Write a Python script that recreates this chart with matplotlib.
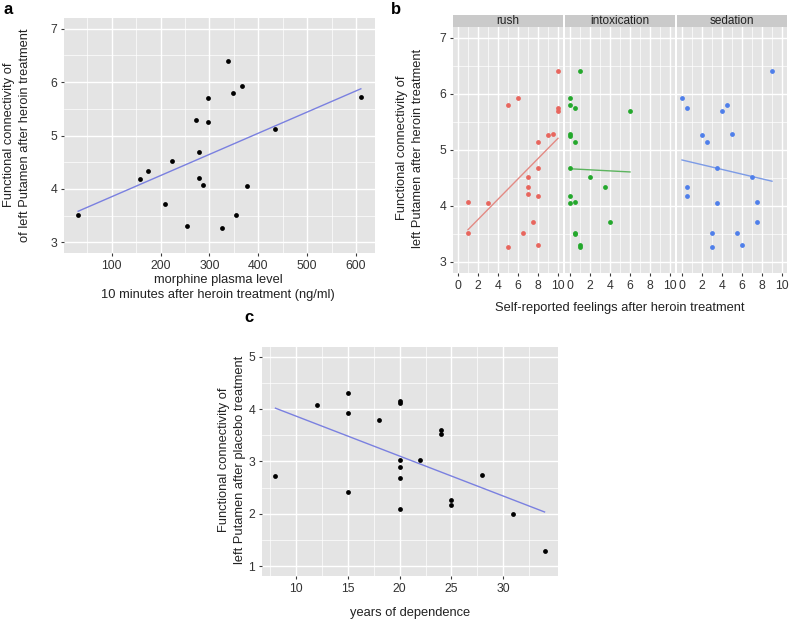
import numpy as np
import matplotlib
matplotlib.use("Agg")
import matplotlib.pyplot as plt

plt.rcParams['font.family'] = ['Liberation Sans', 'DejaVu Sans']

# ---- Panel a data ----
morphine = [31, 158, 175, 209, 224, 254, 273, 279, 279, 286, 296, 296, 326, 338, 348, 354, 367, 376, 435, 610]
fc_heroin = [3.52, 4.18, 4.34, 3.72, 4.52, 3.30, 5.29, 4.20, 4.69, 4.07, 5.70, 5.26, 3.27, 6.40, 5.80, 3.51, 5.92, 4.05, 5.13, 5.73]

# ---- Panel b data ----
facet_names = ["rush", "intoxication", "sedation"]
rush_x = [1, 1, 3, 5, 5, 6, 6.5, 7, 7, 7, 7.5, 8, 8, 8, 8, 9, 9.5, 10, 10, 10]
rush_y = [3.52, 4.07, 4.05, 3.27, 5.80, 5.92, 3.51, 4.52, 4.33, 4.21, 3.71, 5.13, 4.68, 4.17, 3.30, 5.26, 5.29, 6.40, 5.74, 5.70]
intox_x = [1, 0, 0, 0.5, 6, 0, 0, 0.5, 0, 2, 3.5, 0, 0, 0.5, 4, 0.5, 0.5, 1, 1]
intox_y = [6.40, 5.92, 5.80, 5.74, 5.70, 5.29, 5.25, 5.13, 4.68, 4.52, 4.33, 4.17, 4.05, 4.07, 3.71, 3.52, 3.50, 3.30, 3.27]
sed_x = [0, 0.5, 0.5, 0.5, 2, 2.5, 3, 3, 3.5, 3.5, 4, 4.5, 5, 5.5, 6, 7, 7.5, 7.5, 9]
sed_y = [5.92, 5.74, 4.33, 4.17, 5.26, 5.13, 3.51, 3.27, 4.68, 4.05, 5.70, 5.80, 5.29, 3.52, 3.30, 4.52, 4.07, 3.71, 6.40]

# ---- Panel c data ----
years = [8, 12, 15, 15, 15, 18, 20, 20, 20, 20, 20, 20, 22, 24, 24, 25, 25, 28, 31, 34]
fc_placebo = [2.73, 4.09, 4.31, 3.93, 2.41, 3.80, 4.16, 4.11, 3.03, 2.90, 2.69, 2.10, 3.03, 3.60, 3.52, 2.26, 2.17, 2.74, 1.99, 1.28]

W, H = 791, 622
fig = plt.figure(figsize=(W / 100, H / 100), dpi=100)

PANEL_BG = '#E4E4E4'
STRIP_BG = '#CACACA'
TICK_COL = '#3A3A3A'
TICK_FS = 8.8
TITLE_FS = 9.3
PT_S = 12


def ax_px(l, t, r, b):
    return fig.add_axes([l / W, 1 - b / H, (r - l) / W, (b - t) / H])


def style(ax, xmaj, xmin, ymaj, ymin, xlim, ylim, ylabels=True):
    ax.set_facecolor(PANEL_BG)
    for s in ax.spines.values():
        s.set_visible(False)
    ax.set_xlim(*xlim)
    ax.set_ylim(*ylim)
    ax.set_xticks(xmaj)
    ax.set_yticks(ymaj)
    ax.set_xticks(xmin, minor=True)
    ax.set_yticks(ymin, minor=True)
    ax.grid(True, which='major', color='white', lw=1.0)
    ax.grid(True, which='minor', color='white', lw=0.5)
    ax.set_axisbelow(True)
    ax.tick_params(which='major', length=2.5, width=0.8, color=TICK_COL,
                   labelsize=TICK_FS, labelcolor='#333333', pad=2.5)
    ax.tick_params(which='minor', length=0)
    if not ylabels:
        ax.tick_params(axis='y', which='major', length=0, labelleft=False)


def fit_line(ax, x, y, color):
    x = np.asarray(x, float)
    y = np.asarray(y, float)
    k, b0 = np.polyfit(x, y, 1)
    xs = np.array([x.min(), x.max()])
    ax.plot(xs, k * xs + b0, color=color, lw=1.0, zorder=2)


# ---------------- Panel a ----------------
axa = ax_px(64, 18, 375, 253)
style(axa, [100, 200, 300, 400, 500, 600], [50, 150, 250, 350, 450, 550],
      [3, 4, 5, 6, 7], [3.5, 4.5, 5.5, 6.5], (2, 639), (2.8, 7.2))
fit_line(axa, morphine, fc_heroin, '#7A80E0')
axa.scatter(morphine, fc_heroin, s=PT_S, color='black', zorder=3, linewidths=0)
fig.text(218 / W, 1 - 274 / H, "morphine plasma level\n10 minutes after heroin treatment (ng/ml)",
         ha='center', va='top', fontsize=TITLE_FS, color='#222222', linespacing=1.35)
fig.text(17 / W, 1 - 135 / H, "Functional connectivity of\nof left Putamen after heroin treatment",
         ha='center', va='center', rotation=90, fontsize=TITLE_FS, color='#222222', linespacing=1.35)
fig.text(4 / W, 1 - 10 / H, "a", fontsize=12, fontweight='bold', ha='left', va='center')

# ---------------- Panel b ----------------
facet_x = [rush_x, intox_x, sed_x]
facet_y = [rush_y, intox_y, sed_y]
pt_cols = ['#E8665E', '#24A82C', '#4F7FEA']
ln_cols = ['#E38A84', '#5CB45E', '#7C9BE6']
lefts = [453, 565, 677]
for i in range(3):
    l = lefts[i]
    r = l + 110
    ax = ax_px(l, 26.5, r, 273)
    style(ax, [0, 2, 4, 6, 8, 10], [1, 3, 5, 7, 9], [3, 4, 5, 6, 7], [3.5, 4.5, 5.5, 6.5],
          (-0.5, 10.5), (2.8, 7.2), ylabels=(i == 0))
    fit_line(ax, facet_x[i], facet_y[i], ln_cols[i])
    ax.scatter(facet_x[i], facet_y[i], s=PT_S, color=pt_cols[i], zorder=3, linewidths=0)
    sax = ax_px(l, 15, r, 26.5)
    sax.set_facecolor(STRIP_BG)
    sax.set_xticks([])
    sax.set_yticks([])
    for s in sax.spines.values():
        s.set_visible(False)
    sax.text(0.5, 0.45, facet_names[i], ha='center', va='center', fontsize=8.5,
             color='#222222', transform=sax.transAxes)
fig.text(620 / W, 1 - 308 / H, "Self-reported feelings after heroin treatment",
         ha='center', va='center', fontsize=TITLE_FS, color='#222222')
fig.text(410 / W, 1 - 148 / H, "Functional connectivity of\nleft Putamen after heroin treatment",
         ha='center', va='center', rotation=90, fontsize=TITLE_FS, color='#222222', linespacing=1.35)
fig.text(391 / W, 1 - 10 / H, "b", fontsize=12, fontweight='bold', ha='left', va='center')

# ---------------- Panel c ----------------
axc = ax_px(262, 347, 558, 576)
style(axc, [10, 15, 20, 25, 30], [7.5, 12.5, 17.5, 22.5, 27.5, 32.5],
      [1, 2, 3, 4, 5], [1.5, 2.5, 3.5, 4.5], (6.7, 35.3), (0.81, 5.19))
fit_line(axc, years, fc_placebo, '#7A80E0')
axc.scatter(years, fc_placebo, s=PT_S, color='black', zorder=3, linewidths=0)
fig.text(410 / W, 1 - 613 / H, "years of dependence",
         ha='center', va='center', fontsize=TITLE_FS, color='#222222')
fig.text(232 / W, 1 - 460 / H, "Functional connectivity of\nleft Putamen after placebo treatment",
         ha='center', va='center', rotation=90, fontsize=TITLE_FS, color='#222222', linespacing=1.35)
fig.text(244 / W, 1 - 318 / H, "c", fontsize=12, fontweight='bold', ha='left', va='center')

fig.savefig("out.png", dpi=100, facecolor='white')
